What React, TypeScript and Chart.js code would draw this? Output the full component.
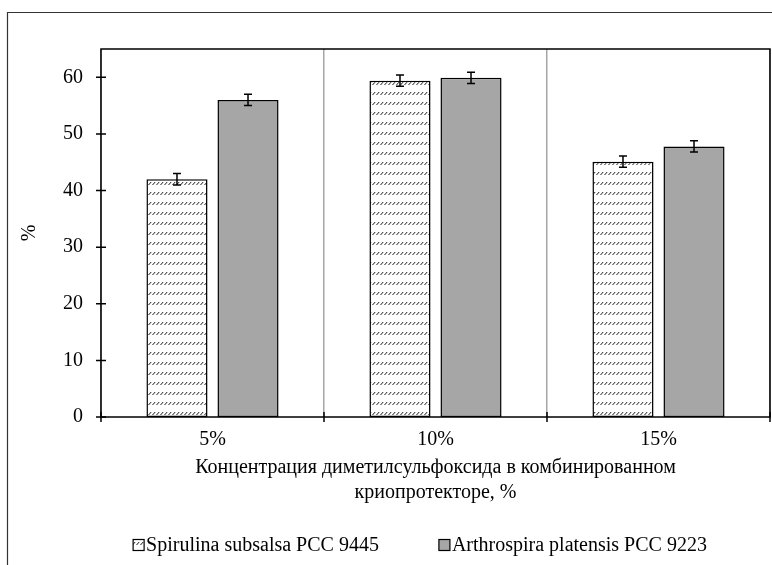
import React, { useEffect, useRef } from 'react';
import { Chart, registerables } from 'chart.js';

Chart.register(...registerables);

const categories = ['5%', '10%', '15%'];
const seriesNames = ['Spirulina subsalsa PCC 9445', 'Arthrospira platensis PCC 9223'];
const spirulinaValues = [42.0, 59.4, 45.1];
const arthrospiraValues = [56.0, 59.9, 47.8];
const spirulinaErrors = [1.0, 1.0, 1.0];
const arthrospiraErrors = [1.0, 1.0, 1.0];
const yTicks = [0, 10, 20, 30, 40, 50, 60];
const xTitle = ['Концентрация диметилсульфоксида в комбинированном', 'криопротекторе, %'];
const yTitle = '%';

const FONT = "'Liberation Serif', 'Times New Roman', serif";
const FS = 20;

function makeHatch(): CanvasPattern | string {
  const c = document.createElement('canvas');
  c.width = 4;
  c.height = 10;
  const g = c.getContext('2d');
  if (!g) return '#fff';
  g.fillStyle = '#ffffff';
  g.fillRect(0, 0, 4, 10);
  g.strokeStyle = '#000000';
  g.lineWidth = 0.9;
  g.beginPath();
  g.moveTo(0.5, 5);
  g.lineTo(3.2, 2);
  g.stroke();
  const p = g.createPattern(c, 'repeat');
  return p || '#fff';
}

const framePlugin = {
  id: 'frame',
  beforeDraw(chart: any) {
    const ctx = chart.ctx;
    ctx.save();
    ctx.strokeStyle = '#333333';
    ctx.lineWidth = 1.2;
    ctx.beginPath();
    ctx.moveTo(7.5, chart.height);
    ctx.lineTo(7.5, 12.5);
    ctx.lineTo(chart.width, 12.5);
    ctx.stroke();
    ctx.restore();
  },
};

const axesPlugin = {
  id: 'axesDeco',
  afterDatasetsDraw(chart: any) {
    const ctx = chart.ctx;
    const { left, right, top, bottom } = chart.chartArea;
    const xs = chart.scales.x;
    const ys = chart.scales.y;
    ctx.save();
    ctx.strokeStyle = '#000';
    ctx.lineWidth = 1.5;
    ctx.strokeRect(left, top, right - left, bottom - top);
    ctx.beginPath();
    ys.ticks.forEach((t: any) => {
      const py = ys.getPixelForValue(t.value);
      ctx.moveTo(left - 5, py);
      ctx.lineTo(left + 5, py);
    });
    const n = xs.ticks.length;
    const step = (xs.right - xs.left) / n;
    for (let k = 0; k <= n; k++) {
      const px = xs.left + k * step;
      ctx.moveTo(px, bottom - 5);
      ctx.lineTo(px, bottom + 5);
    }
    ctx.stroke();
    ctx.restore();
  },
};

const errorBarPlugin = {
  id: 'errorBars',
  afterDatasetsDraw(chart: any) {
    const ctx = chart.ctx;
    const ys = chart.scales.y;
    ctx.save();
    ctx.strokeStyle = '#000';
    ctx.lineWidth = 1.5;
    chart.data.datasets.forEach((ds: any, i: number) => {
      const meta = chart.getDatasetMeta(i);
      meta.data.forEach((bar: any, j: number) => {
        const v = ds.data[j];
        const e = ds.errors[j];
        const x = bar.x;
        const y1 = ys.getPixelForValue(v + e);
        const y2 = ys.getPixelForValue(v - e);
        ctx.beginPath();
        ctx.moveTo(x, y1);
        ctx.lineTo(x, y2);
        ctx.moveTo(x - 4, y1);
        ctx.lineTo(x + 4, y1);
        ctx.moveTo(x - 4, y2);
        ctx.lineTo(x + 4, y2);
        ctx.stroke();
      });
    });
    ctx.restore();
  },
};

const legendPlugin = {
  id: 'customLegend',
  afterDraw(chart: any) {
    const ctx = chart.ctx;
    ctx.save();
    ctx.font = `${FS}px ${FONT}`;
    ctx.textBaseline = 'middle';
    ctx.textAlign = 'left';
    const box = 11;
    const gap = 2;
    const itemGap = 60;
    const items = chart.data.datasets.map((ds: any) => ({
      text: ds.label,
      fill: ds.backgroundColor,
      w: ctx.measureText(ds.label).width,
    }));
    const total =
      items.reduce((a: number, it: any) => a + box + gap + it.w, 0) + itemGap * (items.length - 1);
    let x = chart.width / 2 + 34 - total / 2;
    const y = 545;
    items.forEach((it: any) => {
      ctx.fillStyle = it.fill;
      ctx.fillRect(x, y - box / 2, box, box);
      ctx.strokeStyle = '#000';
      ctx.lineWidth = 1.2;
      ctx.strokeRect(x, y - box / 2, box, box);
      ctx.fillStyle = '#000';
      ctx.fillText(it.text, x + box + gap, y + 1);
      x += box + gap + it.w + itemGap;
    });
    ctx.restore();
  },
};

export default function App() {
  const ref = useRef<HTMLCanvasElement | null>(null);

  useEffect(() => {
    if (!ref.current) return;
    const hatch = makeHatch();
    const chart = new Chart(ref.current, {
      type: 'bar',
      data: {
        labels: categories,
        datasets: [
          {
            label: seriesNames[0],
            data: spirulinaValues,
            errors: spirulinaErrors,
            backgroundColor: hatch,
            borderColor: '#000',
            borderWidth: 1.5,
            borderSkipped: false,
            categoryPercentage: 0.637,
            barPercentage: 0.86,
          } as any,
          {
            label: seriesNames[1],
            data: arthrospiraValues,
            errors: arthrospiraErrors,
            backgroundColor: '#a6a6a6',
            borderColor: '#000',
            borderWidth: 1.5,
            borderSkipped: false,
            categoryPercentage: 0.637,
            barPercentage: 0.86,
          } as any,
        ],
      },
      options: {
        animation: false,
        responsive: false,
        maintainAspectRatio: false,
        layout: { padding: { top: 49, right: 2, bottom: 60, left: 0 } },
        plugins: { legend: { display: false }, tooltip: { enabled: false } },
        scales: {
          x: {
            grid: { display: true, color: '#a6a6a6', lineWidth: 1.5, drawTicks: false, offset: true },
            border: { display: false },
            ticks: { font: { family: FONT, size: FS }, color: '#000', padding: 11 },
            title: {
              display: true,
              text: xTitle,
              font: { family: FONT, size: FS, lineHeight: 25 / FS },
              color: '#000',
              padding: { top: 0, bottom: 0 },
            },
            afterFit: (s: any) => {
              s.height = 88;
            },
          },
          y: {
            min: 0,
            max: 65,
            afterBuildTicks: (s: any) => {
              s.ticks = yTicks.map((v) => ({ value: v }));
            },
            grid: { display: false, drawTicks: false },
            border: { display: false },
            ticks: { font: { family: FONT, size: FS }, color: '#000', padding: 18 },
            title: {
              display: true,
              text: yTitle,
              font: { family: FONT, size: FS },
              color: '#000',
              padding: { top: 18, bottom: 0 },
            },
            afterFit: (s: any) => {
              s.width = 101;
            },
          },
        },
      } as any,
      plugins: [framePlugin, axesPlugin, errorBarPlugin, legendPlugin],
    });
    return () => chart.destroy();
  }, []);

  return (
    <canvas
      ref={ref}
      width={772}
      height={565}
      style={{ position: 'absolute', left: 0, top: 0, width: 772, height: 565, display: 'block' }}
    />
  );
}
